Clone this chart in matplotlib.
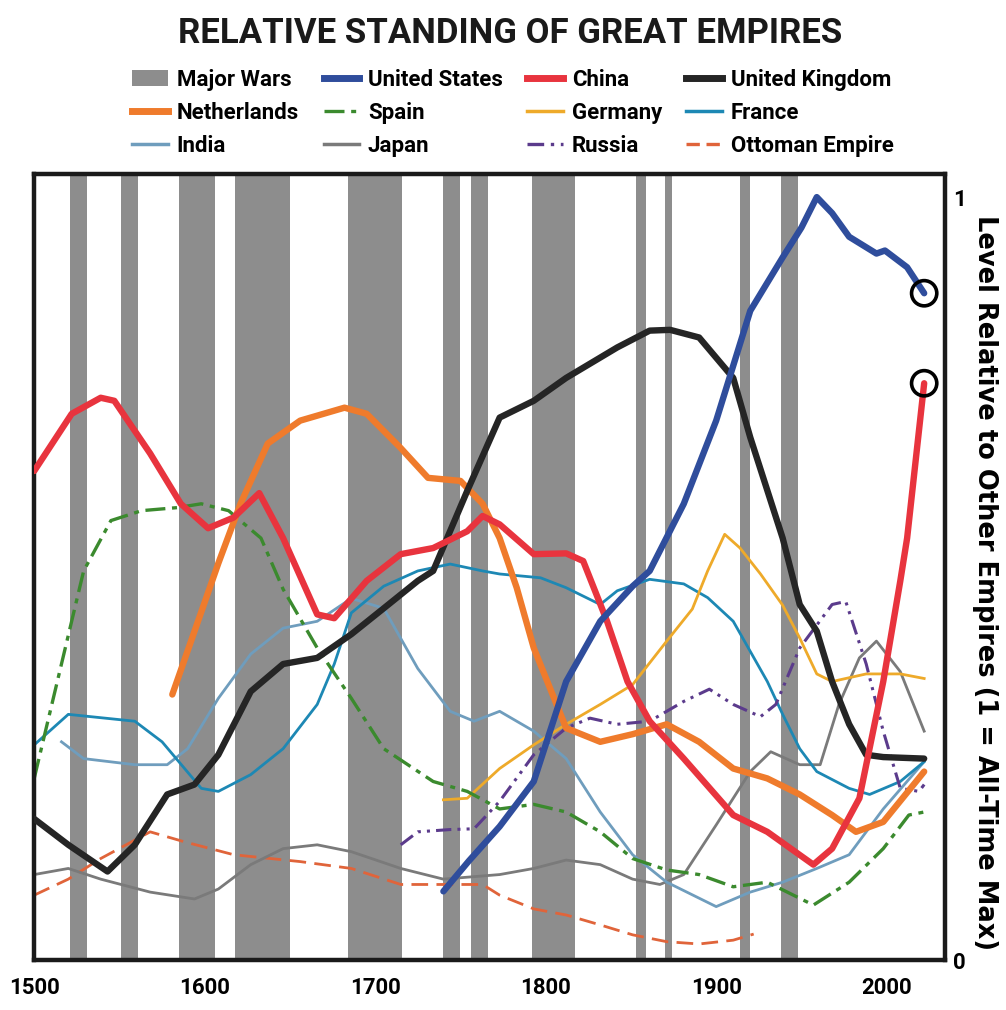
import matplotlib
matplotlib.use('Agg')
import matplotlib.pyplot as plt
from matplotlib.patches import Patch
from matplotlib.lines import Line2D

# ---- data (year, level relative to all-time max) ----
war_start = [1521, 1551, 1585, 1618, 1684, 1740, 1756, 1792, 1853, 1870, 1914, 1938]
war_end = [1531, 1561, 1606, 1650, 1716, 1750, 1766, 1817, 1859, 1874, 1920, 1948]

us_years = [1740, 1755, 1773, 1793, 1812, 1832, 1851, 1861, 1881, 1900, 1920, 1939, 1950, 1959,
            1968, 1978, 1994, 1999, 2012, 2022]
us_vals = [0.09, 0.13, 0.175, 0.234, 0.365, 0.444, 0.49, 0.51, 0.598, 0.707, 0.851, 0.921, 0.96, 1.0,
           0.979, 0.948, 0.926, 0.93, 0.908, 0.874]

china_years = [1500, 1522, 1539, 1547, 1568, 1586, 1602, 1617, 1632, 1646, 1666, 1676, 1695, 1715,
               1734, 1754, 1763, 1773, 1793, 1812, 1822, 1836, 1848, 1861, 1881, 1910, 1930, 1957,
               1968, 1984, 1998, 2008, 2012, 2022]
china_vals = [0.641, 0.716, 0.737, 0.733, 0.664, 0.598, 0.566, 0.58, 0.612, 0.553, 0.453, 0.448,
              0.497, 0.532, 0.54, 0.562, 0.582, 0.571, 0.532, 0.533, 0.523, 0.444, 0.365, 0.313,
              0.264, 0.19, 0.168, 0.125, 0.146, 0.212, 0.365, 0.497, 0.553, 0.756]

uk_years = [1500, 1520, 1543, 1559, 1578, 1594, 1608, 1627, 1646, 1666, 1686, 1705, 1725, 1734,
            1754, 1773, 1793, 1812, 1842, 1861, 1873, 1890, 1910, 1920, 1939, 1949, 1959, 1968,
            1978, 1988, 1998, 2022]
uk_vals = [0.185, 0.151, 0.116, 0.151, 0.217, 0.23, 0.269, 0.352, 0.388, 0.396, 0.427, 0.461,
           0.497, 0.51, 0.615, 0.711, 0.733, 0.763, 0.803, 0.825, 0.826, 0.816, 0.763, 0.685,
           0.553, 0.466, 0.431, 0.365, 0.309, 0.269, 0.266, 0.264]

nl_years = [1581, 1608, 1621, 1637, 1656, 1682, 1695, 1715, 1731, 1750, 1763, 1773, 1783, 1793,
            1812, 1832, 1851, 1871, 1890, 1910, 1930, 1949, 1968, 1982, 1998, 2022]
nl_vals = [0.348, 0.52, 0.598, 0.677, 0.707, 0.724, 0.716, 0.671, 0.632, 0.628, 0.598, 0.553,
           0.488, 0.409, 0.304, 0.286, 0.296, 0.309, 0.286, 0.251, 0.238, 0.217, 0.19, 0.168,
           0.181, 0.247]

spain_years = [1500, 1529, 1545, 1563, 1584, 1598, 1614, 1633, 1646, 1666, 1686, 1705, 1734, 1754,
               1773, 1793, 1812, 1832, 1851, 1871, 1890, 1910, 1930, 1957, 1978, 1998, 2013, 2022]
spain_vals = [0.238, 0.51, 0.576, 0.589, 0.593, 0.598, 0.589, 0.553, 0.486, 0.409, 0.343, 0.277,
              0.234, 0.221, 0.198, 0.204, 0.194, 0.168, 0.133, 0.118, 0.112, 0.096, 0.102, 0.072,
              0.102, 0.146, 0.19, 0.194]

germany_years = [1740, 1754, 1773, 1793, 1812, 1832, 1851, 1871, 1886, 1895, 1905, 1914, 1926, 1939,
                 1949, 1959, 1968, 1988, 2008, 2022]
germany_vals = [0.21, 0.212, 0.251, 0.282, 0.309, 0.335, 0.361, 0.418, 0.46, 0.51, 0.558, 0.54,
                0.506, 0.465, 0.422, 0.375, 0.365, 0.375, 0.375, 0.369]

france_years = [1500, 1520, 1559, 1575, 1598, 1608, 1627, 1646, 1666, 1676, 1686, 1705, 1725, 1744,
                1763, 1773, 1797, 1812, 1832, 1842, 1861, 1881, 1895, 1910, 1930, 1939, 1949, 1959,
                1978, 1990, 2008, 2022]
france_vals = [0.282, 0.322, 0.313, 0.286, 0.225, 0.221, 0.243, 0.277, 0.335, 0.388, 0.455, 0.49,
               0.51, 0.519, 0.51, 0.506, 0.501, 0.488, 0.466, 0.484, 0.499, 0.493, 0.475, 0.444,
               0.365, 0.322, 0.277, 0.247, 0.225, 0.217, 0.234, 0.26]

india_years = [1516, 1529, 1559, 1578, 1590, 1608, 1627, 1646, 1666, 1686, 1705, 1725, 1744, 1758,
               1773, 1793, 1812, 1832, 1851, 1871, 1900, 1920, 1939, 1959, 1978, 1998, 2022]
india_vals = [0.286, 0.264, 0.256, 0.256, 0.277, 0.343, 0.401, 0.435, 0.444, 0.474, 0.461, 0.382,
              0.326, 0.313, 0.326, 0.3, 0.264, 0.194, 0.138, 0.102, 0.07, 0.089, 0.102, 0.12,
              0.138, 0.198, 0.26]

japan_years = [1500, 1520, 1539, 1568, 1594, 1608, 1627, 1646, 1666, 1686, 1715, 1740, 1773, 1793,
               1812, 1832, 1851, 1867, 1881, 1900, 1920, 1932, 1949, 1961, 1972, 1984, 1994, 2008,
               2022]
japan_vals = [0.112, 0.12, 0.106, 0.089, 0.08, 0.093, 0.125, 0.146, 0.151, 0.142, 0.12, 0.106,
              0.112, 0.12, 0.131, 0.125, 0.106, 0.099, 0.112, 0.177, 0.247, 0.273, 0.256, 0.256,
              0.335, 0.396, 0.418, 0.378, 0.3]

russia_years = [1715, 1725, 1744, 1758, 1773, 1793, 1812, 1826, 1842, 1861, 1881, 1896, 1910, 1926,
                1935, 1949, 1968, 1976, 1988, 1998, 2008, 2019, 2022]
russia_vals = [0.151, 0.168, 0.171, 0.172, 0.208, 0.269, 0.304, 0.317, 0.309, 0.313, 0.339, 0.355,
               0.335, 0.319, 0.335, 0.409, 0.466, 0.47, 0.388, 0.3, 0.225, 0.221, 0.23]

ottoman_years = [1500, 1520, 1539, 1568, 1588, 1617, 1656, 1686, 1715, 1744, 1763, 1773, 1793, 1812,
                 1832, 1851, 1871, 1890, 1910, 1922]
ottoman_vals = [0.085, 0.106, 0.133, 0.168, 0.155, 0.138, 0.129, 0.12, 0.099, 0.099, 0.099, 0.085,
                0.067, 0.059, 0.046, 0.033, 0.024, 0.021, 0.026, 0.034]

x_ticks = [1500, 1600, 1700, 1800, 1900, 2000]

# ---- style ----
narrow = ['Roboto', 'DejaVu Sans']
war_color = '#8d8d8d'
thick = 4.6

fig = plt.figure(figsize=(10.06, 10.10), dpi=100)
fig.patch.set_facecolor('white')
ax = fig.add_axes([0.034, 0.0495, 0.905, 0.778])

# major wars as grey bands
for s, e in zip(war_start, war_end):
    ax.axvspan(s, e, color=war_color, lw=0, zorder=1)

# thin lines first, thick ones on top
ax.plot(ottoman_years, ottoman_vals, color='#e0643a', lw=2.0, ls=(0, (6, 3)), zorder=2)
ax.plot(japan_years, japan_vals, color='#7a7a7a', lw=2.0, zorder=2)
ax.plot(india_years, india_vals, color='#6f9dbd', lw=2.0, zorder=2)
ax.plot(france_years, france_vals, color='#1d88b4', lw=2.0, zorder=2)
ax.plot(germany_years, germany_vals, color='#eeaa2a', lw=2.0, zorder=2)
ax.plot(russia_years, russia_vals, color='#5b3b8c', lw=2.2, ls=(0, (5, 2, 1, 2, 1, 2)), zorder=2)
ax.plot(spain_years, spain_vals, color='#3b8a2e', lw=2.4, ls=(0, (6, 2, 1.5, 2)), zorder=2)
ax.plot(nl_years, nl_vals, color='#ef7b2c', lw=thick, solid_capstyle='round', zorder=3)
ax.plot(uk_years, uk_vals, color='#252525', lw=thick, solid_capstyle='round', zorder=3)
ax.plot(china_years, china_vals, color='#e8343e', lw=thick, solid_capstyle='round', zorder=4)
ax.plot(us_years, us_vals, color='#2f4d9c', lw=thick, solid_capstyle='round', zorder=4)

# circles on the latest US and China readings
ax.scatter([us_years[-1], china_years[-1]], [us_vals[-1], china_vals[-1]], s=330,
           facecolors='none', edgecolors='black', linewidths=2.6, zorder=5)

ax.set_xlim(1500, 2034)
ax.set_ylim(0, 1.03)
ax.set_xticks(x_ticks)
ax.set_xticklabels([str(t) for t in x_ticks], fontfamily=narrow, fontweight='bold', fontsize=16)
ax.yaxis.tick_right()
ax.set_yticks([0, 1])
ax.set_yticklabels(['0', '1'], fontfamily=narrow, fontweight='bold', fontsize=16)
ax.tick_params(axis='both', length=0)
ax.tick_params(axis='x', pad=12)
ax.tick_params(axis='y', pad=6)
ax.set_ylabel('Level Relative to Other Empires (1 = All-Time Max)', rotation=270,
              fontsize=18.5, fontweight='bold', va='center', ha='center')
ax.yaxis.set_label_coords(1.044, 0.48)
for sp in ax.spines.values():
    sp.set_linewidth(3.2)
    sp.set_color('#1a1a1a')

fig.text(0.507, 0.967, 'RELATIVE STANDING OF GREAT EMPIRES', ha='center', va='center',
         fontsize=25, fontweight='bold', fontfamily=narrow, color='#1a1a1a')

# legend, filled column by column to get the row order of the original
handles = [
    Patch(facecolor=war_color, edgecolor='none'),
    Line2D([], [], color='#ef7b2c', lw=5),
    Line2D([], [], color='#6f9dbd', lw=2.5),
    Line2D([], [], color='#2f4d9c', lw=5),
    Line2D([], [], color='#3b8a2e', lw=2.4, ls=(0, (6, 2, 1.5, 2))),
    Line2D([], [], color='#7a7a7a', lw=2.5),
    Line2D([], [], color='#e8343e', lw=5),
    Line2D([], [], color='#eeaa2a', lw=2.5),
    Line2D([], [], color='#5b3b8c', lw=2.4, ls=(0, (5, 2, 1, 2, 1, 2))),
    Line2D([], [], color='#252525', lw=5),
    Line2D([], [], color='#1d88b4', lw=2.5),
    Line2D([], [], color='#e0643a', lw=2.4, ls=(0, (4, 2))),
]
labels = ['Major Wars', 'Netherlands', 'India',
          'United States', 'Spain', 'Japan',
          'China', 'Germany', 'Russia',
          'United Kingdom', 'France', 'Ottoman Empire']
fig.legend(handles, labels, loc='center', bbox_to_anchor=(0.51, 0.888), ncol=4, frameon=False,
           prop={'family': narrow, 'weight': 'bold', 'size': 16}, handlelength=1.6,
           handletextpad=0.4, columnspacing=1.1, labelspacing=0.5)

fig.savefig('out.png', dpi=100)
